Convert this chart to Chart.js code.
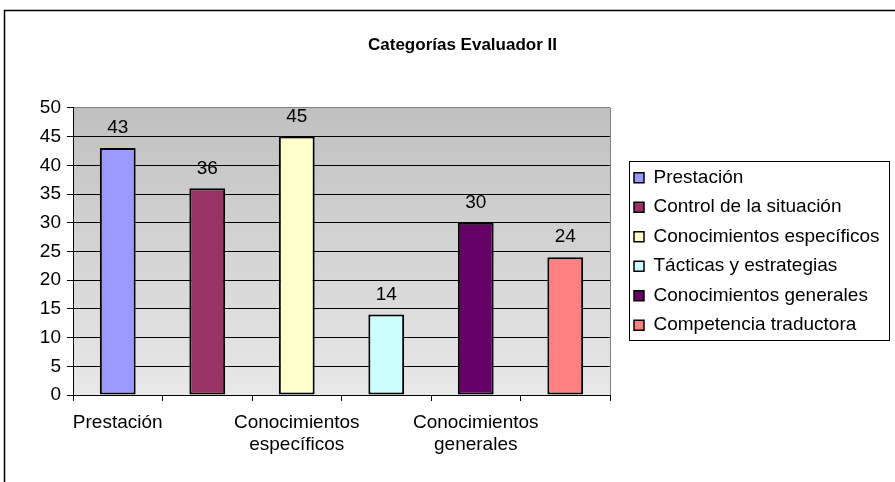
<!DOCTYPE html>
<html>
<head>
<meta charset="utf-8">
<script src="https://cdn.jsdelivr.net/npm/chart.js@4/dist/chart.umd.min.js"></script>
<style>
  html, body { margin: 0; padding: 0; background: #ffffff; }
  canvas { display: block; }
</style>
</head>
<body>
<canvas id="c" width="895" height="482"></canvas>
<script>
// ---- data ----
const chartTitle = 'Categorías Evaluador II';
const categories = ['Prestación', 'Control de la situación', 'Conocimientos específicos', 'Tácticas y estrategias', 'Conocimientos generales', 'Competencia traductora'];
const values = [43, 36, 45, 14, 30, 24];
const barColors = ['#9999FF', '#993366', '#FFFFCC', '#CCFFFF', '#660066', '#FF8080'];
const xTickLabels = [['Prestación'], '', ['Conocimientos', 'específicos'], '', ['Conocimientos', 'generales'], ''];
const yMin = 0, yMax = 50, yStep = 5;

const FONT = "'Liberation Sans', Arial, sans-serif";
const FS = 19;

const decorPlugin = {
  id: 'decor',
  afterLayout(chart) {
    const lg = chart.legend;
    lg.left = chart.chartArea.right + 13.5;
    lg.right = chart.width - 5.5;
    lg.width = lg.right - lg.left;
    const tb = chart.titleBlock;
    tb.left = 30; tb.right = chart.width;
    tb.width = tb.right - tb.left;
  },
  beforeDraw(chart) {
    const ctx = chart.ctx, a = chart.chartArea;
    ctx.save();
    ctx.fillStyle = '#ffffff';
    ctx.fillRect(0, 0, chart.width, chart.height);
    const g = ctx.createLinearGradient(0, a.top, 0, a.bottom);
    g.addColorStop(0, '#C0C0C0');
    g.addColorStop(1, '#E8E8E8');
    ctx.fillStyle = g;
    ctx.fillRect(a.left, a.top, a.right - a.left, a.bottom - a.top);
    ctx.strokeStyle = '#000';
    ctx.lineWidth = 1.5;
    ctx.strokeRect(4.5, 10.5, chart.width + 20, chart.height + 20);
    ctx.restore();
  },
  afterDatasetsDraw(chart) {
    const ctx = chart.ctx;
    const meta = chart.getDatasetMeta(0);
    ctx.save();
    ctx.font = FS + 'px ' + FONT;
    ctx.fillStyle = '#000';
    ctx.textAlign = 'center';
    ctx.textBaseline = 'middle';
    meta.data.forEach((bar, i) => {
      ctx.fillText(String(chart.data.datasets[0].data[i]), bar.x, bar.y - 20);
    });
    ctx.restore();
  },
  afterDraw(chart) {
    const ctx = chart.ctx, a = chart.chartArea;
    ctx.save();
    // plot-area right border
    ctx.strokeStyle = '#808080';
    ctx.lineWidth = 1;
    ctx.beginPath();
    ctx.moveTo(Math.round(a.right) + 0.5, a.top);
    ctx.lineTo(Math.round(a.right) + 0.5, a.bottom);
    ctx.stroke();
    // legend frame
    const lg = chart.legend;
    const pad = lg.options.labels.padding;
    const colH = lg.columnSizes[0].height;
    const itemsTop = (lg.top + pad + lg.bottom - colH) / 2;
    const l = Math.round(lg.left + 5.5) + 0.5;
    const t = Math.round(itemsTop - 7) + 0.5;
    const r = Math.round(lg.right - 0.5) + 0.5;
    const b = Math.round(itemsTop + colH - pad + 5.5) + 0.5;
    ctx.strokeStyle = '#000';
    ctx.lineWidth = 1;
    ctx.strokeRect(l, t, r - l, b - t);
    ctx.restore();
  }
};

new Chart(document.getElementById('c'), {
  type: 'bar',
  data: {
    labels: categories,
    datasets: [{
      data: values,
      backgroundColor: barColors,
      borderColor: '#000000',
      borderWidth: 2,
      borderSkipped: false,
      barPercentage: 0.4,
      categoryPercentage: 1.0
    }]
  },
  options: {
    responsive: false,
    animation: false,
    devicePixelRatio: 1,
    layout: { padding: { left: 0, right: 85, top: 0, bottom: 0 } },
    plugins: {
      title: {
        display: true,
        text: chartTitle,
        color: '#000',
        font: { family: FONT, size: 17, weight: 'bold' },
        padding: { top: 35.5, bottom: 52 }
      },
      legend: {
        display: true,
        position: 'right',
        fullSize: false,
        maxWidth: 200,
        labels: {
          color: '#000',
          font: { family: FONT, size: FS },
          boxWidth: 10,
          boxHeight: 10,
          padding: 10.5,
          generateLabels(chart) {
            const ds = chart.data.datasets[0];
            return chart.data.labels.map((lab, i) => ({
              text: lab,
              fillStyle: ds.backgroundColor[i],
              strokeStyle: '#000',
              lineWidth: 1.5,
              hidden: false,
              index: i,
              datasetIndex: 0
            }));
          }
        },
        onClick: () => {}
      },
      tooltip: { enabled: false }
    },
    scales: {
      x: {
        offset: true,
        grid: { display: true, drawOnChartArea: false, drawTicks: true, tickLength: 6, color: '#000', tickColor: '#000', offset: true },
        border: { display: true, color: '#000', width: 1 },
        ticks: {
          autoSkip: false,
          maxRotation: 0,
          minRotation: 0,
          padding: 10,
          color: '#000',
          font: { family: FONT, size: FS },
          callback: (v, i) => xTickLabels[i]
        },
        afterFit(scale) { scale.height = 87; }
      },
      y: {
        min: yMin,
        max: yMax,
        grid: {
          display: true,
          drawTicks: true,
          tickLength: 6,
          color: (c) => (c.tick && c.tick.value === yMax ? '#808080' : '#000'),
          tickColor: '#000',
          lineWidth: 1
        },
        border: { display: true, color: '#000', width: 1 },
        ticks: {
          stepSize: yStep,
          padding: 6,
          color: '#000',
          font: { family: FONT, size: FS }
        },
        afterFit(scale) { scale.width = 73; }
      }
    }
  },
  plugins: [decorPlugin]
});
</script>
</body>
</html>
